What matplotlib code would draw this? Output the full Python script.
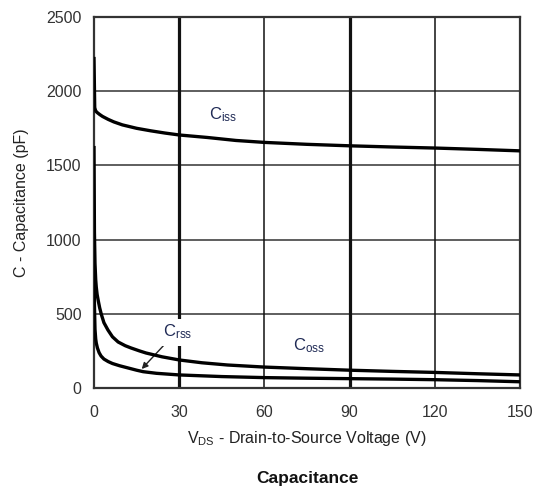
import matplotlib
matplotlib.use("Agg")
import matplotlib.pyplot as plt

plt.rcParams['font.family'] = ['Liberation Sans', 'DejaVu Sans']
plt.rcParams['mathtext.fontset'] = 'custom'
plt.rcParams['mathtext.rm'] = 'Liberation Sans'
plt.rcParams['mathtext.it'] = 'Liberation Sans'

# ---- data ----
ciss_v = [0, 0.25, 0.5, 0.8, 1.2, 2, 3, 5, 7, 10, 15, 20, 25, 30, 40, 50, 60, 75, 90, 105, 120, 135, 150]
ciss_c = [2220, 1890, 1872, 1862, 1855, 1843, 1830, 1810, 1793, 1773, 1750, 1733, 1718, 1705, 1688, 1668, 1655, 1642, 1632, 1624, 1617, 1608, 1598]

coss_v = [0, 0.15, 0.35, 0.6, 0.8, 1.1, 1.5, 2.0, 2.6, 3.5, 4.9, 6.5, 8.5, 11, 13, 16, 18.3, 24, 30, 38, 47, 60, 75, 90, 105, 120, 135, 150]
coss_c = [1620, 1050, 840, 730, 680, 630, 588, 540, 495, 440, 391, 345, 310, 285, 270, 250, 236, 210, 189, 170, 155, 141, 130, 120, 112, 105, 96, 88]

crss_v = [0, 0.15, 0.35, 0.6, 0.8, 1.2, 1.8, 2.5, 3.5, 5, 6.5, 9, 12, 15, 17.3, 22, 30, 45, 60, 75, 90, 105, 120, 135, 150]
crss_c = [1070, 560, 395, 330, 303, 270, 238, 215, 195, 178, 165, 150, 135, 120, 110, 99, 88, 77, 70, 66, 63, 60, 56, 50, 42]

x_ticks = [0, 30, 60, 90, 120, 150]
y_ticks = [0, 500, 1000, 1500, 2000, 2500]

# ---- figure ----
fig = plt.figure(figsize=(5.35, 4.9), dpi=100)
ax = fig.add_axes([94/535, 1-388/490, (520-94)/535, (388-17)/490])

ax.set_xlim(0, 150)
ax.set_ylim(0, 2500)
ax.set_xticks(x_ticks)
ax.set_yticks(y_ticks)
ax.tick_params(length=0, labelsize=11.5, colors='#333333')
ax.tick_params(axis='x', pad=12)
ax.tick_params(axis='y', pad=9)

for s in ax.spines.values():
    s.set_linewidth(1.6)
    s.set_color('#333333')

# grid
for yv in y_ticks[1:-1]:
    ax.axhline(yv, color='#333333', lw=1.1, zorder=1)
for xv in x_ticks[1:-1]:
    bold = xv in (30, 90)
    ax.axvline(xv, color='#111111', lw=2.3 if bold else 1.1, zorder=1)

lw = 2.4
ax.plot(ciss_v, ciss_c, color='black', lw=lw, zorder=4, solid_joinstyle='round')
ax.plot(coss_v, coss_c, color='black', lw=lw, zorder=4, solid_joinstyle='round')
ax.plot(crss_v, crss_c, color='black', lw=lw, zorder=4, solid_joinstyle='round')

lab_col = '#1f2a55'
ax.text(40.5, 1840, r'C$_{\rm iss}$', fontsize=12, color=lab_col, va='center', ha='left', zorder=3)
ax.text(70, 283, r'C$_{\rm oss}$', fontsize=12, color=lab_col, va='center', ha='left', zorder=3)
ax.annotate(r'C$_{\rm rss}$', xy=(16.8, 128), xytext=(24.3, 377), fontsize=12,
            color=lab_col, va='center', ha='left', zorder=3,
            bbox=dict(boxstyle='square,pad=0.25', fc='white', ec='none'),
            arrowprops=dict(arrowstyle='-|>', color='#222222', lw=1.0,
                            mutation_scale=9, shrinkA=0, shrinkB=0,
                            relpos=(0.15, 0.0)))

ax.set_xlabel(r'V$_{\rm DS}$ - Drain-to-Source Voltage (V)', fontsize=11.5, color='#222222', labelpad=7)
ax.set_ylabel('C - Capacitance (pF)', fontsize=11.5, color='#222222', labelpad=12)

fig.text(307/535, 1-478/490, 'Capacitance', fontsize=12.5, fontweight='bold',
         ha='center', va='center', color='#111111')

fig.savefig('out.png', dpi=100)
